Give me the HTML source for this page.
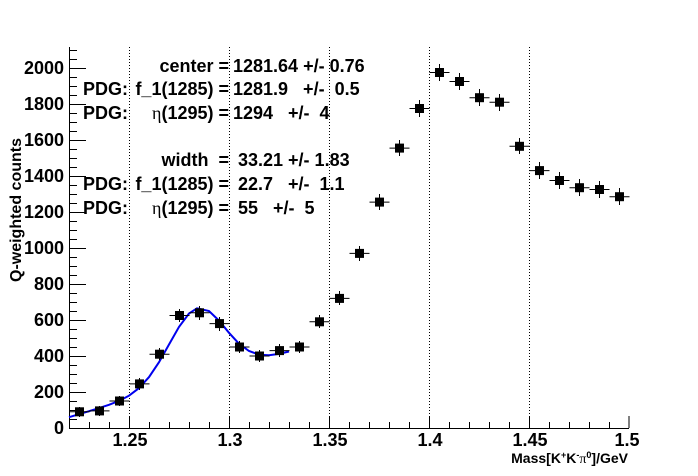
<!DOCTYPE html>
<html><head><meta charset="utf-8"><style>
body{margin:0;background:#fff}
svg{display:block;font-family:"Liberation Sans",sans-serif;font-weight:bold}
</style></head><body>
<svg width="698" height="476" viewBox="0 0 698 476" xmlns="http://www.w3.org/2000/svg">
<rect width="698" height="476" fill="#fff"/>
<g stroke="#000" stroke-dasharray="1,2" stroke-width="1">
<line x1="129.5" y1="47" x2="129.5" y2="428"/><line x1="229.5" y1="47" x2="229.5" y2="428"/>
<line x1="329.5" y1="47" x2="329.5" y2="428"/><line x1="429.5" y1="47" x2="429.5" y2="428"/>
<line x1="529.5" y1="47" x2="529.5" y2="428"/>
</g>
<path d="M69.5 47 V428.5 H629" fill="none" stroke="#000"/>
<g stroke="#000">
<path d="M89.5 428v-6M109.5 428v-6M129.5 428v-12M149.5 428v-6M169.5 428v-6M189.5 428v-6M209.5 428v-6M229.5 428v-12M249.5 428v-6M269.5 428v-6M289.5 428v-6M309.5 428v-6M329.5 428v-12M349.5 428v-6M369.5 428v-6M389.5 428v-6M409.5 428v-6M429.5 428v-12M449.5 428v-6M469.5 428v-6M489.5 428v-6M509.5 428v-6M529.5 428v-12M549.5 428v-6M569.5 428v-6M589.5 428v-6M609.5 428v-6M629 428v-12"/>
<path d="M69 428.5h17M69 419.5h8M69 410.5h8M69 401.5h8M69 392.5h17M69 383.5h8M69 374.5h8M69 365.5h8M69 356.5h17M69 347.5h8M69 338.5h8M69 329.5h8M69 320.5h17M69 311.5h8M69 302.5h8M69 293.5h8M69 284.5h17M69 275.5h8M69 266.5h8M69 257.5h8M69 248.5h17M69 239.5h8M69 230.5h8M69 221.5h8M69 212.5h17M69 203.5h8M69 194.5h8M69 185.5h8M69 176.5h17M69 167.5h8M69 158.5h8M69 149.5h8M69 140.5h17M69 131.5h8M69 122.5h8M69 113.5h8M69 104.5h17M69 95.5h8M69 86.5h8M69 77.5h8M69 68.5h17M69 59.5h8M69 50.5h8"/>
</g>
<g font-size="18" text-anchor="end">
<text x="64" y="434">0</text><text x="64" y="398">200</text><text x="64" y="362">400</text>
<text x="64" y="326">600</text><text x="64" y="290">800</text><text x="64" y="254">1000</text>
<text x="64" y="218">1200</text><text x="64" y="182">1400</text><text x="64" y="146">1600</text>
<text x="64" y="110">1800</text><text x="64" y="74">2000</text>
</g>
<g font-size="18" text-anchor="middle">
<text x="130" y="446">1.25</text><text x="230" y="446">1.3</text><text x="330" y="446">1.35</text>
<text x="430" y="446">1.4</text><text x="530" y="446">1.45</text><text x="627" y="446">1.5</text>
</g>
<text x="628" y="463" font-size="14" text-anchor="end">Mass[K<tspan dy="-5" font-size="9">+</tspan><tspan dy="5">K</tspan><tspan dy="-5" font-size="9">-</tspan><tspan dy="5" font-family="Liberation Serif" font-weight="normal">π</tspan><tspan dy="-5" font-size="9">0</tspan><tspan dy="5">]/GeV</tspan></text>
<text transform="translate(21,210) rotate(-90)" font-size="16" text-anchor="middle">Q-weighted counts</text>
<g font-size="18">
<text x="229" y="72" text-anchor="end">center =</text><text x="233" y="72">1281.64 +/- 0.76</text>
<text x="83" y="95">PDG:</text><text x="229" y="95" text-anchor="end">f_1(1285) =</text><text x="233" y="95">1281.9 &#160; +/- &#160;0.5</text>
<text x="83" y="119">PDG:</text><text x="229" y="119" text-anchor="end"><tspan font-family="Liberation Serif" font-weight="normal">η</tspan>(1295) =</text><text x="233" y="119">1294 &#160; +/- &#160;4</text>
<text x="229" y="166" text-anchor="end">width &#160;=</text><text x="233" y="166">&#160;33.21 +/- 1.83</text>
<text x="83" y="190">PDG:</text><text x="229" y="190" text-anchor="end">f_1(1285) =</text><text x="233" y="190">&#160;22.7 &#160; +/- &#160;1.1</text>
<text x="83" y="214">PDG:</text><text x="229" y="214" text-anchor="end"><tspan font-family="Liberation Serif" font-weight="normal">η</tspan>(1295) =</text><text x="233" y="214">&#160;55 &#160; +/- &#160;5</text>
</g>
<polyline fill="none" stroke="#0000ee" stroke-width="2" points="69,417.2 79,414.2 89,411.2 99,408.1 109,404.8 119,400.9 129,395.7 139,388.1 149,377.1 159,362.2 169,344.5 179,326.9 189,313.5 197,308.3 209,311 219,320.6 229,332.8 239,343.7 249,351 259,354.7 269,355.2 279,353.9 289,351.5"/>
<g stroke="#000" stroke-width="1">
<path d="M69.5 411.8h20M89.5 410.9h20M109.5 401h20M129.5 383.9h20M149.5 354.2h20M169.5 315.5h20M189.5 312.8h20M209.5 323.6h20M229.5 347h20M249.5 356h20M269.5 350.6h20M289.5 347h20M309.5 321.8h20M329.5 298.4h20M349.5 253.4h20M369.5 202.1h20M389.5 148.1h20M409.5 108.5h20M429.5 72.5h20M449.5 81.5h20M469.5 97.7h20M489.5 102.2h20M509.5 146.3h20M529.5 170.6h20M549.5 180.5h20M569.5 187.7h20M589.5 189.5h20M609.5 196.7h20"/>
<path d="M79.5 407v10M99.5 406v10M119.5 396v10M139.5 378v12M159.5 348v12M179.5 309v13M199.5 306v14M219.5 317v14M239.5 341v12M259.5 350v12M279.5 344v13M299.5 341v12M319.5 315v13M339.5 291v14M359.5 246v15M379.5 194v16M399.5 140v16M419.5 100v17M439.5 64v17M459.5 73v17M479.5 89v17M499.5 94v17M519.5 138v16M539.5 162v17M559.5 172v17M579.5 179v17M599.5 181v17M619.5 188v17"/>
</g>
<g fill="#000">
<rect x="75" y="407.3" width="9" height="9"/><rect x="95" y="406.4" width="9" height="9"/>
<rect x="115" y="396.5" width="9" height="9"/><rect x="135" y="379.4" width="9" height="9"/>
<rect x="155" y="349.7" width="9" height="9"/><rect x="175" y="311" width="9" height="9"/>
<rect x="195" y="308.3" width="9" height="9"/><rect x="215" y="319.1" width="9" height="9"/>
<rect x="235" y="342.5" width="9" height="9"/><rect x="255" y="351.5" width="9" height="9"/>
<rect x="275" y="346.1" width="9" height="9"/><rect x="295" y="342.5" width="9" height="9"/>
<rect x="315" y="317.3" width="9" height="9"/><rect x="335" y="293.9" width="9" height="9"/>
<rect x="355" y="248.9" width="9" height="9"/><rect x="375" y="197.6" width="9" height="9"/>
<rect x="395" y="143.6" width="9" height="9"/><rect x="415" y="104" width="9" height="9"/>
<rect x="435" y="68" width="9" height="9"/><rect x="455" y="77" width="9" height="9"/>
<rect x="475" y="93.2" width="9" height="9"/><rect x="495" y="97.7" width="9" height="9"/>
<rect x="515" y="141.8" width="9" height="9"/><rect x="535" y="166.1" width="9" height="9"/>
<rect x="555" y="176" width="9" height="9"/><rect x="575" y="183.2" width="9" height="9"/>
<rect x="595" y="185" width="9" height="9"/><rect x="615" y="192.2" width="9" height="9"/>
</g>
</svg>
</body></html>
